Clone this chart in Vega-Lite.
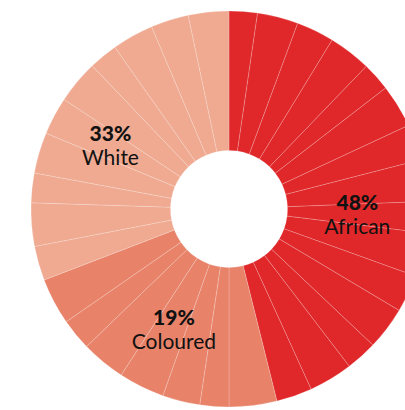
{
  "$schema": "https://vega.github.io/schema/vega-lite/v6.json",
  "width": 405,
  "height": 410,
  "autosize": {"type": "none"},
  "padding": 0,
  "background": "#ffffff",
  "config": {"view": {"stroke": null}},
  "datasets": {
    "slices": [
      {"i": 1, "group": "African", "deg": 8.3},
      {"i": 2, "group": "African", "deg": 12.0},
      {"i": 3, "group": "African", "deg": 11.1},
      {"i": 4, "group": "African", "deg": 12.5},
      {"i": 5, "group": "African", "deg": 8.4},
      {"i": 6, "group": "African", "deg": 12.7},
      {"i": 7, "group": "African", "deg": 10.6},
      {"i": 8, "group": "African", "deg": 12.2},
      {"i": 9, "group": "African", "deg": 9.2},
      {"i": 10, "group": "African", "deg": 12.8},
      {"i": 11, "group": "African", "deg": 11.0},
      {"i": 12, "group": "African", "deg": 12.6},
      {"i": 13, "group": "African", "deg": 9.2},
      {"i": 14, "group": "African", "deg": 12.9},
      {"i": 15, "group": "African", "deg": 10.5},
      {"i": 16, "group": "Coloured", "deg": 14.0},
      {"i": 17, "group": "Coloured", "deg": 8.5},
      {"i": 18, "group": "Coloured", "deg": 11.0},
      {"i": 19, "group": "Coloured", "deg": 13.5},
      {"i": 20, "group": "Coloured", "deg": 13.0},
      {"i": 21, "group": "Coloured", "deg": 9.3},
      {"i": 22, "group": "Coloured", "deg": 13.7},
      {"i": 23, "group": "White", "deg": 10.1},
      {"i": 24, "group": "White", "deg": 12.7},
      {"i": 25, "group": "White", "deg": 8.7},
      {"i": 26, "group": "White", "deg": 12.0},
      {"i": 27, "group": "White", "deg": 11.1},
      {"i": 28, "group": "White", "deg": 12.7},
      {"i": 29, "group": "White", "deg": 8.5},
      {"i": 30, "group": "White", "deg": 12.2},
      {"i": 31, "group": "White", "deg": 11.1},
      {"i": 32, "group": "White", "deg": 11.9}
    ],
    "labels": [
      {"group": "African", "pct": "48%", "ang": 93.1, "r": 128.5},
      {"group": "Coloured", "pct": "19%", "ang": 204.2, "r": 134.3},
      {"group": "White", "pct": "33%", "ang": 297.8, "r": 134}
    ]
  },
  "layer": [
    {
      "data": {"name": "slices"},
      "mark": {
        "type": "arc",
        "x": 229,
        "y": 209,
        "outerRadius": 198,
        "innerRadius": 58.5,
        "stroke": "#ffffff",
        "strokeWidth": 0.6,
        "strokeOpacity": 0.32
      },
      "encoding": {
        "theta": {"field": "deg", "type": "quantitative", "stack": true, "scale": {"domain": [0, 360]}},
        "order": {"field": "i", "type": "quantitative"},
        "color": {
          "field": "group",
          "type": "nominal",
          "legend": null,
          "scale": {"domain": ["African", "Coloured", "White"], "range": ["#E0282A", "#E8836A", "#EFAA91"]}
        }
      }
    },
    {
      "data": {"name": "labels"},
      "mark": {"type": "text", "x": 229, "y": 209, "dy": -12, "font": "Lato", "fontSize": 21, "fontWeight": 900, "color": "#111111", "align": "center", "baseline": "middle"},
      "encoding": {
        "theta": {"field": "ang", "type": "quantitative", "stack": null, "scale": {"domain": [0, 360]}},
        "radius": {"field": "r", "type": "quantitative", "scale": {"type": "linear", "domain": [0, 199], "range": [0, 199], "zero": true}},
        "text": {"field": "pct"}
      }
    },
    {
      "data": {"name": "labels"},
      "mark": {"type": "text", "x": 229, "y": 209, "dy": 12, "font": "Lato", "fontSize": 21, "fontWeight": "normal", "color": "#111111", "align": "center", "baseline": "middle"},
      "encoding": {
        "theta": {"field": "ang", "type": "quantitative", "stack": null, "scale": {"domain": [0, 360]}},
        "radius": {"field": "r", "type": "quantitative", "scale": {"type": "linear", "domain": [0, 199], "range": [0, 199], "zero": true}},
        "text": {"field": "group"}
      }
    }
  ]
}
